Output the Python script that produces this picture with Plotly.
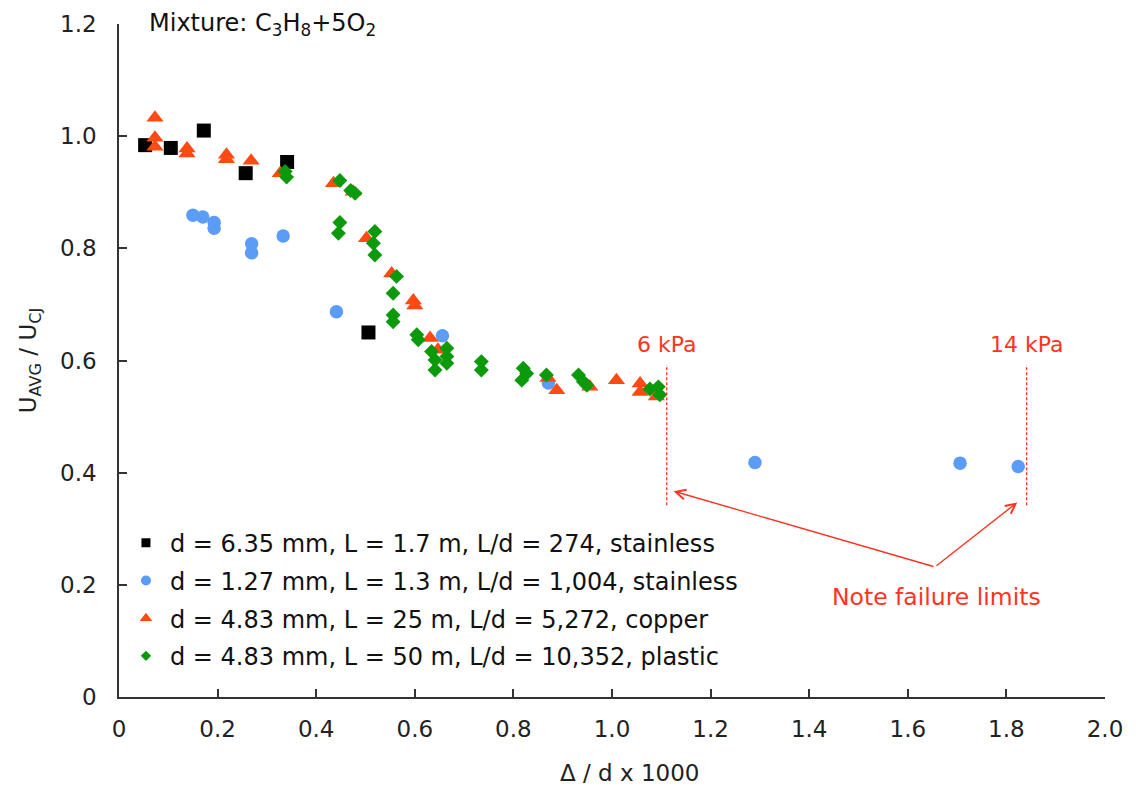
import plotly.graph_objects as go

# ---------------- data ----------------
ss_635_x = [0.053, 0.105, 0.172, 0.257, 0.341, 0.506]
ss_635_y = [0.984, 0.979, 1.010, 0.934, 0.954, 0.650]

ss_127_x = [0.150, 0.170, 0.193, 0.193, 0.269, 0.269, 0.333, 0.441, 0.656, 0.871, 1.290, 1.706, 1.824]
ss_127_y = [0.859, 0.856, 0.846, 0.836, 0.808, 0.792, 0.822, 0.687, 0.644, 0.560, 0.418, 0.417, 0.411]

cu_483_x = [0.073, 0.073, 0.073, 0.138, 0.138, 0.218, 0.218, 0.268, 0.327, 0.435, 0.475, 0.502,
            0.553, 0.597, 0.600, 0.631, 0.647, 0.870, 0.888, 0.955, 1.009, 1.057, 1.057, 1.090]
cu_483_y = [1.033, 0.997, 0.981, 0.978, 0.969, 0.967, 0.959, 0.956, 0.934, 0.916, 0.901, 0.818,
            0.755, 0.707, 0.698, 0.640, 0.619, 0.569, 0.547, 0.553, 0.565, 0.559, 0.544, 0.536]

pl_483_x = [0.337, 0.340, 0.448, 0.445, 0.448, 0.470, 0.479, 0.519, 0.516, 0.519, 0.563, 0.556,
            0.556, 0.556, 0.604, 0.607, 0.634, 0.641, 0.641, 0.665, 0.665, 0.665, 0.735, 0.735,
            0.820, 0.817, 0.827, 0.867, 0.932, 0.942, 0.949, 1.077, 1.094, 1.097]
pl_483_y = [0.937, 0.927, 0.921, 0.827, 0.846, 0.903, 0.898, 0.830, 0.809, 0.788, 0.750, 0.720,
            0.681, 0.669, 0.646, 0.637, 0.616, 0.601, 0.583, 0.622, 0.607, 0.595, 0.598, 0.583,
            0.586, 0.565, 0.577, 0.574, 0.574, 0.562, 0.556, 0.549, 0.553, 0.539]

series_names = [
    "d = 6.35 mm, L = 1.7 m, L/d = 274, stainless",
    "d = 1.27 mm, L = 1.3 m, L/d = 1,004, stainless",
    "d = 4.83 mm, L = 25 m, L/d = 5,272, copper",
    "d = 4.83 mm, L = 50 m, L/d = 10,352, plastic",
]

x_ticks = [0, 0.2, 0.4, 0.6, 0.8, 1.0, 1.2, 1.4, 1.6, 1.8, 2.0]
x_ticktext = ["0", "0.2", "0.4", "0.6", "0.8", "1.0", "1.2", "1.4", "1.6", "1.8", "2.0"]
y_ticks = [0, 0.2, 0.4, 0.6, 0.8, 1.0, 1.2]
y_ticktext = ["0", "0.2", "0.4", "0.6", "0.8", "1.0", "1.2"]

# failure limits
limit_x = [1.111, 1.841]
limit_labels = ["6 kPa", "14 kPa"]
limit_y_range = [0.342, 0.592]
limit_label_y = 0.629
note_xy = (1.659, 0.178)
arrow_tail = (1.655, 0.232)
arrow_heads = [(1.125, 0.367), (1.822, 0.347)]

# ---------------- style ----------------
FONT = "DejaVu Sans"
RED = "#ff3322"
colors = ["#000000", "#5b9cf6", "#ff4a14", "#0c9a0c"]
symbols = ["square", "circle", "triangle-up", "diamond"]
sizes = [14, 13.5, 15, 11.5]
legend_sizes = [9, 10, 11, 8]

xs = [ss_635_x, ss_127_x, cu_483_x, pl_483_x]
ys = [ss_635_y, ss_127_y, cu_483_y, pl_483_y]

fig = go.Figure()
for i in range(4):
    fig.add_trace(go.Scatter(
        x=xs[i], y=ys[i], mode="markers", name=series_names[i],
        marker=dict(symbol=symbols[i], size=sizes[i], color=colors[i], line=dict(width=0)),
        showlegend=False, legendgroup=f"g{i}",
    ))
# legend entries (smaller symbols, like the original)
for i in range(4):
    fig.add_trace(go.Scatter(
        x=[None], y=[None], mode="markers", name=series_names[i],
        marker=dict(symbol=symbols[i], size=legend_sizes[i], color=colors[i]),
        showlegend=True, legendgroup=f"g{i}",
    ))

# dashed limit lines
for lx in limit_x:
    fig.add_shape(type="line", xref="x", yref="y", x0=lx, x1=lx,
                  y0=limit_y_range[0], y1=limit_y_range[1],
                  line=dict(color=RED, width=1.3, dash="3px,2px"))

annotations = []
for lx, lab in zip(limit_x, limit_labels):
    annotations.append(dict(x=lx, y=limit_label_y, xref="x", yref="y", text=lab,
                            showarrow=False, xanchor="center", yanchor="middle",
                            font=dict(family=FONT, size=22, color=RED)))
annotations.append(dict(x=note_xy[0], y=note_xy[1], xref="x", yref="y",
                        text="Note failure limits", showarrow=False,
                        xanchor="center", yanchor="middle",
                        font=dict(family=FONT, size=23.5, color=RED)))
for hx, hy in arrow_heads:
    annotations.append(dict(x=hx, y=hy, xref="x", yref="y",
                            ax=arrow_tail[0], ay=arrow_tail[1], axref="x", ayref="y",
                            text="", showarrow=True, arrowhead=5, arrowsize=1.4,
                            arrowwidth=1.4, arrowcolor=RED, standoff=0, startstandoff=0))
annotations.append(dict(x=0.0284, y=0.999, xref="paper", yref="paper",
                        text="Mixture: C<sub>3</sub>H<sub>8</sub>+5O<sub>2</sub>",
                        showarrow=False, xanchor="left", yanchor="middle",
                        font=dict(family=FONT, size=24, color="#111")))
annotations.append(dict(x=0.518, y=-0.113, xref="paper", yref="paper",
                        text="Δ / d x 1000", showarrow=False,
                        xanchor="center", yanchor="middle",
                        font=dict(family=FONT, size=23, color="#222")))
annotations.append(dict(x=-0.0905, y=0.5, xref="paper", yref="paper",
                        text="U<sub>AVG</sub> / U<sub>CJ</sub>", showarrow=False,
                        textangle=-90, xanchor="center", yanchor="middle",
                        font=dict(family=FONT, size=23, color="#222")))

axis_common = dict(showgrid=False, zeroline=False, showline=True, linecolor="#333",
                   linewidth=1.5, ticks="inside", ticklen=8, tickwidth=1.5,
                   tickcolor="#333", automargin=False,
                   tickfont=dict(family=FONT, size=23, color="#222"))

# the page body adds an 8 px offset; the figure is sized so the plot lands where the original is
fig.update_layout(
    width=1128, height=781, autosize=False,
    margin=dict(l=111, r=31, t=16, b=92),
    paper_bgcolor="white", plot_bgcolor="white",
    xaxis=dict(range=[0, 2], tickvals=x_ticks, ticktext=x_ticktext,
               ticklabelstandoff=11, **axis_common),
    yaxis=dict(range=[0, 1.2], tickvals=y_ticks, ticktext=y_ticktext,
               ticklabelstandoff=16, **axis_common),
    legend=dict(x=0.003, y=0.262, xanchor="left", yanchor="top",
                bgcolor="rgba(0,0,0,0)", traceorder="grouped", tracegroupgap=3.5,
                itemsizing="trace", itemwidth=38,
                font=dict(family=FONT, size=24, color="#111")),
    annotations=annotations,
    font=dict(family=FONT),
)

fig.write_html("out.html")
